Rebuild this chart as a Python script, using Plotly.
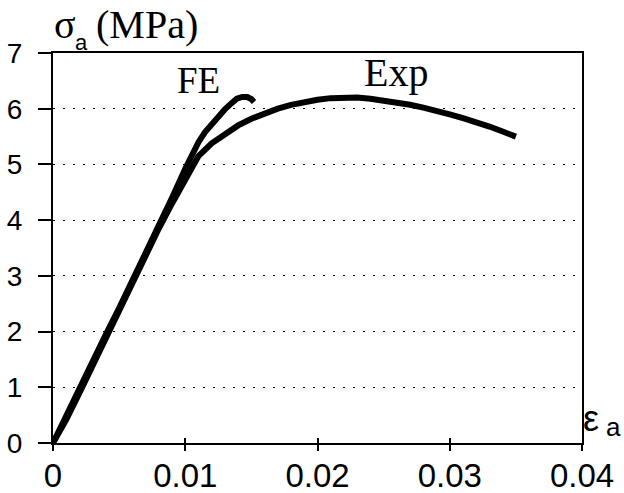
import plotly.graph_objects as go

# Data
fe_strain = [0.0, 0.001, 0.002, 0.003, 0.004, 0.005, 0.006, 0.007, 0.008, 0.009,
             0.010, 0.0105, 0.011, 0.0115, 0.012, 0.0125, 0.013, 0.0135, 0.0139,
             0.0143, 0.0147, 0.0150, 0.0152]
fe_stress = [0.0, 0.50, 1.00, 1.48, 1.95, 2.42, 2.90, 3.40, 3.90, 4.40,
             4.92, 5.18, 5.40, 5.58, 5.73, 5.87, 5.99, 6.10, 6.18,
             6.21, 6.21, 6.17, 6.12]

exp_strain = [0.0, 0.001, 0.002, 0.003, 0.004, 0.005, 0.006, 0.007, 0.008, 0.009,
              0.010, 0.0105, 0.011, 0.012, 0.013, 0.014, 0.015, 0.016, 0.017,
              0.018, 0.019, 0.020, 0.021, 0.022, 0.023, 0.024, 0.025, 0.026,
              0.027, 0.028, 0.029, 0.030, 0.031, 0.032, 0.033, 0.034, 0.035]
exp_stress = [0.0, 0.42, 0.90, 1.40, 1.88, 2.36, 2.85, 3.35, 3.85, 4.30,
              4.75, 4.95, 5.15, 5.38, 5.55, 5.70, 5.82, 5.92, 6.00,
              6.07, 6.12, 6.16, 6.19, 6.20, 6.20, 6.18, 6.15, 6.12,
              6.07, 6.02, 5.97, 5.90, 5.83, 5.76, 5.68, 5.59, 5.50]

x_ticks = [0, 0.01, 0.02, 0.03, 0.04]
x_tick_labels = ["0", "0.01", "0.02", "0.03", "0.04"]
y_ticks = [0, 1, 2, 3, 4, 5, 6, 7]
y_tick_labels = ["0", "1", "2", "3", "4", "5", "6", "7"]

SANS = "Liberation Sans, Arial, sans-serif"
SERIF = "Liberation Serif, Times New Roman, serif"

fig = go.Figure()
fig.add_trace(go.Scatter(x=exp_strain, y=exp_stress, mode="lines",
                         line=dict(color="black", width=6), name="Exp",
                         showlegend=False))
fig.add_trace(go.Scatter(x=fe_strain, y=fe_stress, mode="lines",
                         line=dict(color="black", width=6), name="FE",
                         showlegend=False))
# invisible trace to activate the secondary x axis (outside tick marks)
fig.add_trace(go.Scatter(x=[x_ticks[0]], y=[y_ticks[0]], xaxis="x2",
                         mode="markers", marker=dict(opacity=0),
                         showlegend=False, hoverinfo="skip"))

def ann(text, x, y, size, family, xref="paper", yref="paper",
        xanchor="left", yanchor="middle"):
    return dict(text=text, x=x, y=y, xref=xref, yref=yref, xanchor=xanchor,
                yanchor=yanchor, showarrow=False, borderpad=0,
                font=dict(family=family, size=size, color="black"))

fig.update_layout(
    width=624, height=493,
    margin=dict(l=53, r=42, t=53, b=50),
    paper_bgcolor="white", plot_bgcolor="white",
    xaxis=dict(range=[0, 0.04], tickvals=x_ticks, ticktext=x_tick_labels,
               showline=True, linecolor="black", linewidth=2, mirror=True,
               ticks="inside", ticklen=5, tickwidth=2, tickcolor="black",
               showgrid=False, zeroline=False, automargin=False,
               ticklabelstandoff=2,
               tickfont=dict(family=SANS, size=33, color="black")),
    xaxis2=dict(range=[0, 0.04], overlaying="x", side="bottom",
                tickvals=x_ticks, ticks="outside", ticklen=7, tickwidth=2,
                tickcolor="black", showticklabels=False, showgrid=False,
                zeroline=False, showline=False, automargin=False),
    yaxis=dict(range=[0, 7], tickvals=y_ticks, ticktext=y_tick_labels,
               showline=True, linecolor="black", linewidth=2, mirror=True,
               ticks="outside", ticklen=13, tickwidth=2, tickcolor="black",
               showgrid=True, gridcolor="black", gridwidth=1,
               griddash="2px,8px", zeroline=False, ticklabelstandoff=10,
               automargin=False,
               tickfont=dict(family=SANS, size=28, color="black")),
    annotations=[
        ann("σ", 0.0, 1.072, 40, SERIF),
        ann("a", 0.0397, 1.028, 22, SANS),
        ann("(MPa)", 0.0794, 1.072, 40, SERIF),
        ann("FE", 0.0110, 6.51, 37, SERIF, xref="x", yref="y",
            xanchor="center"),
        ann("Exp", 0.0259, 6.65, 40, SERIF, xref="x", yref="y",
            xanchor="center"),
        ann("ε", 1.000, 0.062, 36, SANS),
        ann("a", 1.044, 0.040, 26, SANS),
    ],
)

fig.write_html("out.html")
